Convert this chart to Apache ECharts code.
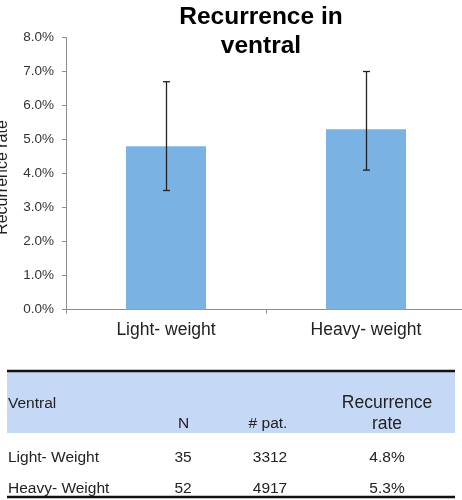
<!DOCTYPE html>
<html>
<head>
<meta charset="utf-8">
<script src="https://cdn.jsdelivr.net/npm/echarts@6/dist/echarts.min.js"></script>
<style>
html,body{margin:0;padding:0;background:#fff;}
#chart{width:462px;height:500px;}
</style>
</head>
<body>
<div id="chart"></div>
<script>
var titleText = 'Recurrence in\nventral';
var yAxisName = 'Recurrence rate';
var categories = ['Light- weight', 'Heavy- weight'];
var rates = [4.8, 5.3];
var errLow = [3.5, 4.1];
var errHigh = [6.7, 7.0];
var yMin = 0, yMax = 8, yStep = 1;

var tableHeaderTop = ['Ventral', '', '', 'Recurrence'];
var tableHeaderBottom = ['', 'N', '# pat.', 'rate'];
var tableRowLabels = ['Light- Weight', 'Heavy- Weight'];
var tableN = ['35', '52'];
var tablePatients = ['3312', '4917'];
var tableRates = ['4.8%', '5.3%'];

var FONT = 'Liberation Sans, Arial, sans-serif';
var chart = echarts.init(document.getElementById('chart'), null, {renderer: 'canvas'});

var colX = [8, 183.5, 268, 387];
var headRowY = [403.5, 424];
var bodyRowY = [457.5, 488.5];
var txt = {fontSize: 15.5, fontFamily: FONT, fill: '#222'};

var graphics = [
  {type: 'rect', shape: {x: 7, y: 371, width: 448, height: 62}, style: {fill: '#c5d9f6'}, silent: true},
  {type: 'line', shape: {x1: 7, y1: 371, x2: 455, y2: 371}, style: {stroke: '#111', lineWidth: 2.5}, silent: true},
  {type: 'line', shape: {x1: 7, y1: 497, x2: 455, y2: 497}, style: {stroke: '#111', lineWidth: 2.5}, silent: true}
];
function addText(s, x, y, align, size) {
  if (!s) return;
  graphics.push({type: 'text', x: x, y: y, silent: true,
    style: Object.assign({}, txt, {text: s, textAlign: align, textVerticalAlign: 'middle',
      fontSize: size || txt.fontSize})});
}
for (var c = 0; c < 4; c++) {
  var sz = c === 3 ? 17.5 : 15.5;
  addText(tableHeaderTop[c], colX[c], headRowY[0], c === 0 ? 'left' : 'center', sz);
  addText(tableHeaderBottom[c], colX[c], headRowY[1], c === 0 ? 'left' : 'center', sz);
}
for (var r = 0; r < tableRowLabels.length; r++) {
  addText(tableRowLabels[r], colX[0], bodyRowY[r], 'left');
  addText(tableN[r], colX[1] - 0.5, bodyRowY[r], 'center');
  addText(tablePatients[r], 270, bodyRowY[r], 'center');
  addText(tableRates[r], colX[3], bodyRowY[r], 'center');
}

var errData = categories.map(function (c, i) { return [i, errLow[i], errHigh[i]]; });

chart.setOption({
  animation: false,
  backgroundColor: '#fff',
  title: {
    text: titleText, left: 256, top: -2, textAlign: 'center',
    textStyle: {fontSize: 24.5, fontWeight: 'bold', fontFamily: FONT, color: '#000', lineHeight: 29}
  },
  grid: {left: 66, top: 37.5, width: 400, height: 272, containLabel: false, outerBoundsMode: 'none'},
  xAxis: {
    type: 'category', data: categories,
    axisLine: {lineStyle: {color: '#8c8c8c', width: 1}},
    axisTick: {show: true, length: 4, lineStyle: {color: '#8c8c8c'}},
    axisLabel: {fontSize: 17.5, fontFamily: FONT, color: '#222', margin: 12}
  },
  yAxis: {
    type: 'value', min: yMin, max: yMax, interval: yStep,
    name: yAxisName, nameLocation: 'middle', nameGap: 55, nameRotate: 90,
    nameTextStyle: {fontSize: 16, fontFamily: FONT, color: '#222', padding: [0, 8, 0, 0]},
    splitLine: {show: false},
    axisLine: {show: true, lineStyle: {color: '#8c8c8c', width: 1}},
    axisTick: {show: true, length: 4, lineStyle: {color: '#8c8c8c'}},
    axisLabel: {fontSize: 13.5, fontFamily: FONT, color: '#333', margin: 12,
      formatter: function (v) { return v.toFixed(1) + '%'; }}
  },
  series: [
    {type: 'bar', data: rates, barWidth: 80, itemStyle: {color: '#7ab3e3'}, z: 2},
    {
      type: 'custom', data: errData, z: 5,
      renderItem: function (params, api) {
        var lo = api.coord([api.value(0), api.value(1)]);
        var hi = api.coord([api.value(0), api.value(2)]);
        var x = Math.round(lo[0]) + 0.5;
        var hw = 3.5;
        var st = {stroke: '#222', lineWidth: 1.3};
        return {type: 'group', children: [
          {type: 'line', shape: {x1: x, y1: lo[1], x2: x, y2: hi[1]}, style: st},
          {type: 'line', shape: {x1: x - hw, y1: lo[1], x2: x + hw, y2: lo[1]}, style: st},
          {type: 'line', shape: {x1: x - hw, y1: hi[1], x2: x + hw, y2: hi[1]}, style: st}
        ]};
      }
    }
  ],
  graphic: graphics
});
</script>
</body>
</html>
